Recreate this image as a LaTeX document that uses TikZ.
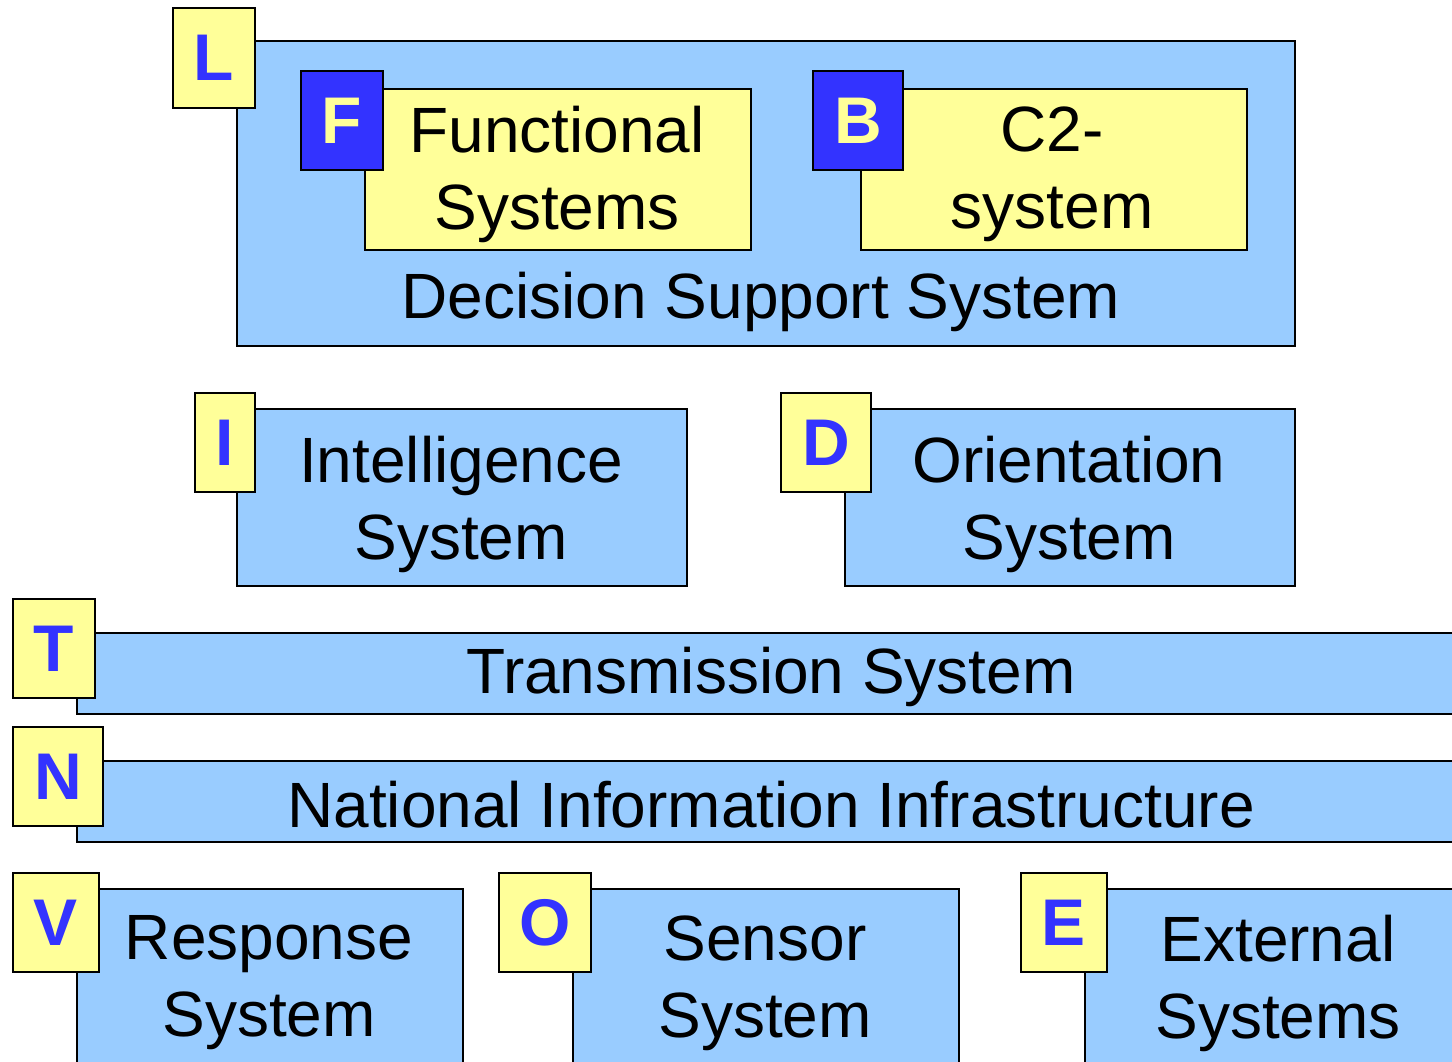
\documentclass[tikz,border=0pt]{standalone}
\usepackage{fontspec}
\setmainfont{Liberation Sans}
\definecolor{lblue}{HTML}{99CCFF}
\definecolor{lyel}{HTML}{FFFF99}
\definecolor{dblue}{HTML}{3333FF}
\tikzset{
  x=1pt, y=-1pt,
  frame/.style={draw=black, line width=2pt, rectangle, inner sep=0pt, anchor=north west},
  bluebox/.style={frame, fill=lblue},
  yelbox/.style={frame, fill=lyel},
  dbox/.style={frame, fill=dblue},
  txt/.style={inner sep=0pt, align=center, font=\fontsize{64}{77}\selectfont, text=black},
  ltr/.style={inner sep=0pt, font=\fontsize{66}{70}\selectfont\bfseries, text=dblue},
  wltr/.style={ltr, text=lyel},
}
\begin{document}
\begin{tikzpicture}
\useasboundingbox (0,0) rectangle (1452,1062);
\clip (0,0) rectangle (1452,1062);
% Decision support system
\node[bluebox, minimum width=1058pt, minimum height=305pt] (dss) at (236,40) {};
\node[txt] (dsst) at (761,302) {Decision Support System};
\node[yelbox, minimum width=82pt, minimum height=100pt] (lb) at (172,7) {};
\node[ltr] (lt) at (lb.center) {L};
% Functional systems
\node[yelbox, minimum width=386pt, minimum height=161pt] (fs) at (364,88) {};
\node[txt] (fst) at (557,174) {Functional\\Systems};
\node[dbox, minimum width=82pt, minimum height=99pt] (fb) at (300,70) {};
\node[wltr] (ft) at (fb.center) {F};
% C2 system
\node[yelbox, minimum width=386pt, minimum height=161pt] (c2) at (860,88) {};
\node[txt] (c2t) at (1052,174) {C2-\\system};
\node[dbox, minimum width=90pt, minimum height=99pt] (bb) at (812,70) {};
\node[wltr] (bt) at (bb.center) {B};
% Intelligence
\node[bluebox, minimum width=450pt, minimum height=177pt] (is) at (236,408) {};
\node[txt] (ist) at (461,504) {Intelligence\\System};
\node[yelbox, minimum width=60pt, minimum height=99pt] (ib) at (194,392) {};
\node[ltr] (it) at (ib.center) {I};
% Orientation
\node[bluebox, minimum width=450pt, minimum height=177pt] (os) at (844,408) {};
\node[txt] (ost) at (1069,504) {Orientation\\System};
\node[yelbox, minimum width=90pt, minimum height=99pt] (db) at (780,392) {};
\node[ltr] (dt) at (db.center) {D};
% Transmission
\node[bluebox, minimum width=1400pt, minimum height=81pt] (ts) at (76,632) {};
\node[txt] (tst) at (771,677) {Transmission System};
\node[yelbox, minimum width=82pt, minimum height=99pt] (tb) at (12,598) {};
\node[ltr] (tt) at (tb.center) {T};
% NII
\node[bluebox, minimum width=1400pt, minimum height=81pt] (ni) at (76,760) {};
\node[txt] (nit) at (771,805) {National Information Infrastructure};
\node[yelbox, minimum width=90pt, minimum height=99pt] (nb) at (12,726) {};
\node[ltr] (nt) at (nb.center) {N};
% Response
\node[bluebox, minimum width=386pt, minimum height=200pt] (rs) at (76,888) {};
\node[txt] (rst) at (269,983) {Response\\System};
\node[yelbox, minimum width=86pt, minimum height=99pt] (vb) at (12,872) {};
\node[ltr] (vt) at (vb.center) {V};
% Sensor
\node[bluebox, minimum width=386pt, minimum height=200pt] (ss) at (572,888) {};
\node[txt] (sst) at (765,983) {Sensor\\System};
\node[yelbox, minimum width=92pt, minimum height=99pt] (ob) at (498,872) {};
\node[ltr] (ot) at (ob.center) {O};
% External
\node[bluebox, minimum width=400pt, minimum height=200pt] (es) at (1084,888) {};
\node[txt] (est) at (1278,983) {External\\Systems};
\node[yelbox, minimum width=86pt, minimum height=99pt] (eb) at (1020,872) {};
\node[ltr] (et) at (eb.center) {E};
\end{tikzpicture}
\end{document}
